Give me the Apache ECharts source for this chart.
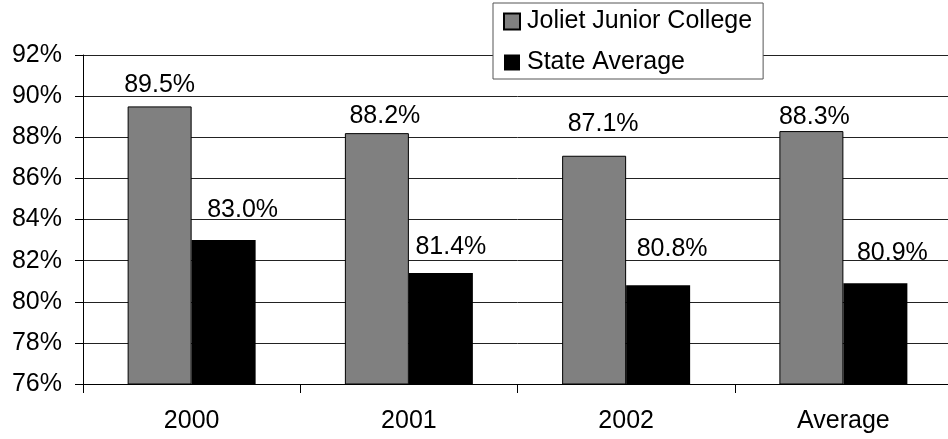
<!DOCTYPE html>
<html>
<head>
<meta charset="utf-8">
<script src="https://cdn.jsdelivr.net/npm/echarts@6/dist/echarts.min.js"></script>
<style>
html,body{margin:0;padding:0;background:#fff;overflow:hidden;width:948px;height:439px;}
#chart{width:952px;height:439px;}
</style>
</head>
<body>
<div id="chart"></div>
<script>
var categories = ['2000', '2001', '2002', 'Average'];
var seriesNames = ['Joliet Junior College', 'State Average'];
var jolietValues = [89.5, 88.2, 87.1, 88.3];
var stateValues = [83.0, 81.4, 80.8, 80.9];
var yTicks = [76, 78, 80, 82, 84, 86, 88, 90, 92];

// label nudges (style only) to mimic the original's placement
var jolietLabelNudge = [[0, -4], [8, 0], [9, -14], [3, 4]];
var stateLabelNudge = [[19, -12], [10, -8], [14, -19], [17, -13]];

var FONT = '"Liberation Sans", Arial, sans-serif';
var FS = 25;

function buildData(vals, nudges) {
  return vals.map(function (v, i) {
    return { value: v, label: { offset: nudges[i] } };
  });
}

var chart = echarts.init(document.getElementById('chart'), null, { renderer: 'canvas' });
chart.setOption({
  backgroundColor: '#fff',
  animation: false,
  textStyle: { fontFamily: FONT },
  grid: { left: 83, top: 55, right: 0, bottom: 55, containLabel: false },
  legend: {
    orient: 'vertical',
    left: 493, top: 3,
    padding: [6, 11, 4, 10],
    itemGap: 16,
    itemWidth: 16, itemHeight: 16,
    backgroundColor: '#fff',
    borderColor: '#555', borderWidth: 1,
    icon: 'rect',
    textStyle: { fontFamily: FONT, fontSize: FS, color: '#000', padding: [0, 0, 0, 2] },
    data: seriesNames
  },
  xAxis: {
    type: 'category',
    data: categories,
    axisLine: { show: true, lineStyle: { color: '#000', width: 1 } },
    axisTick: { show: true, alignWithLabel: false, length: 9, lineStyle: { color: '#000' } },
    axisLabel: { fontFamily: FONT, fontSize: FS, color: '#000', margin: 25 }
  },
  yAxis: {
    type: 'value',
    min: yTicks[0], max: yTicks[yTicks.length - 1], interval: 2,
    axisLine: { show: true, lineStyle: { color: '#000', width: 1 } },
    axisTick: { show: true, inside: false, length: 8, lineStyle: { color: '#000' } },
    axisLabel: { fontFamily: FONT, fontSize: FS, color: '#000', margin: 21,
      formatter: function (v) { return v + '%'; } },
    splitLine: { show: true, lineStyle: { color: '#222', width: 1 } }
  },
  series: [
    {
      name: seriesNames[0], type: 'bar', barWidth: 64, barGap: '0%',
      data: buildData(jolietValues, jolietLabelNudge),
      itemStyle: { color: '#808080', borderColor: '#000', borderWidth: 1 },
      label: { show: true, position: 'top', fontFamily: FONT, fontSize: FS, color: '#000',
        formatter: function (p) { return p.value.toFixed(1) + '%'; } }
    },
    {
      name: seriesNames[1], type: 'bar', barWidth: 64, barGap: '0%',
      data: buildData(stateValues, stateLabelNudge),
      itemStyle: { color: '#000', borderColor: '#000', borderWidth: 0 },
      label: { show: true, position: 'top', fontFamily: FONT, fontSize: FS, color: '#000',
        formatter: function (p) { return p.value.toFixed(1) + '%'; } }
    }
  ]
});
</script>
</body>
</html>
